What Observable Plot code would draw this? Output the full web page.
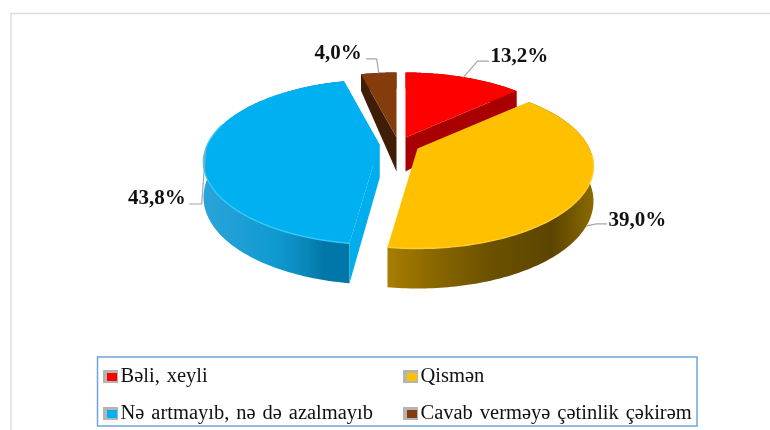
<!DOCTYPE html>
<html><head><meta charset="utf-8">
<script src="https://cdn.jsdelivr.net/npm/d3@7"></script>
<script src="https://cdn.jsdelivr.net/npm/@observablehq/plot@0.6"></script>
<style>html,body{margin:0;padding:0;background:#fff}svg{display:block;filter:blur(.35px)}svg text{word-spacing:1.8px}</style>
</head><body><div id="chart"></div>
<script>
// data
const categories = ["Bəli, xeyli", "Qismən", "Nə artmayıb, nə də azalmayıb", "Cavab verməyə çətinlik çəkirəm"];
const values = [13.2, 39.0, 43.8, 4.0];
const labels = ["13,2%", "39,0%", "43,8%", "4,0%"];
const colors = ["#ff0000", "#ffc000", "#00b0f0", "#843c0c"];
const sideColors = ["#a80000", null, "#00aeee", "#3f1d06"];
const wallFills = ["#a00000", "url(#wallYellow)", "url(#wallBlue)", "#4a2408"];

// pie geometry (3D perspective)
const rx = 172, ry = 78.8, k = 0.212;
const apexX = [405, 417, 379, 396], apexY = [137, 148, 144, 137];
const paintOrder = [3, 0, 2, 1];
const rimColors = [null, "#ffcd2e", "#35c8fb", null];
// label layout: offset of elbow and of text from the slice's leader anchor
const elbowDx = [14, 10, -4, -2], elbowDy = [-16, -2, 55, -14];
const tailDx = [11, 10, -12, -10];
const labelDy = [-6, -5, -7, -7], labelDx = [2, 2, -4, -5];
const anchorOnWall = [false, true, false, false];

const rad = d => d * Math.PI / 180;
function proj(i, deg, drop = false) {
  const u = Math.sin(rad(deg)), v = -Math.cos(rad(deg));
  const s = 1 / (1 - k * v);
  const d = drop ? (v > 0 ? 34 + 6 * v : 34 + 18 * v) : 0;
  return {x: apexX[i] + rx * u * s, y: apexY[i] + ry * v * s + d};
}
function apex(i, drop = false) { return {x: apexX[i], y: apexY[i] + (drop ? 34 : 0)}; }

const bounds = [];
values.reduce((acc, v, i) => { bounds[i] = [acc * 3.6, (acc + v) * 3.6]; return acc + v; }, 0);
function arc(i, drop = false, a = bounds[i][0], b = bounds[i][1]) {
  const n = Math.max(2, Math.ceil(b - a));
  return d3.range(n + 1).map(j => proj(i, a + (b - a) * j / n, drop));
}

const marks = [];
// outer chart frame
marks.push(Plot.ruleY([13], {x1: 10, x2: 770, stroke: "#dedede", strokeWidth: 1.5}));
marks.push(Plot.ruleX([10.5], {y1: 13, y2: 430, stroke: "#dedede", strokeWidth: 1.5}));

// gradient defs
marks.push(() => {
  const svgNS = "http://www.w3.org/2000/svg";
  const defs = document.createElementNS(svgNS, "defs");
  const grads = {
    wallYellow: [[0, "#a87e00"], [.22, "#8a6800"], [.5, "#6b5100"], [.8, "#5c4500"], [1, "#8a6a00"]],
    wallBlue: [[0, "#2aa4da"], [.5, "#0f9ad0"], [.72, "#0a85b8"], [.82, "#0077a8"], [1, "#0077a8"]]
  };
  for (const [id, stops] of Object.entries(grads)) {
    const g = document.createElementNS(svgNS, "linearGradient");
    g.setAttribute("id", id);
    for (const [o, c] of stops) {
      const s = document.createElementNS(svgNS, "stop");
      s.setAttribute("offset", o); s.setAttribute("stop-color", c);
      g.appendChild(s);
    }
    defs.appendChild(g);
  }
  return defs;
});

// leader lines
const leaders = [];
values.forEach((v, i) => {
  const mid = (bounds[i][0] + bounds[i][1]) / 2;
  const p = proj(i, mid, anchorOnWall[i]);
  const e = {x: p.x + elbowDx[i], y: p.y + elbowDy[i]};
  const t = {x: e.x + tailDx[i], y: e.y};
  [p, e, t].forEach(q => leaders.push({id: i, x: q.x, y: q.y}));
});

for (const i of paintOrder) {
  const [a, b] = bounds[i];
  // outer wall
  const wall = [...arc(i), ...arc(i, true).reverse()];
  marks.push(Plot.line(wall, {x: "x", y: "y", fill: wallFills[i], stroke: "none"}));
  // radial cut faces
  if (sideColors[i]) {
    const face1 = [apex(i), proj(i, a), proj(i, a, true), apex(i, true)];
    const face2 = [apex(i), proj(i, b), proj(i, b, true), apex(i, true)];
    marks.push(Plot.line(face1, {x: "x", y: "y", fill: sideColors[i], stroke: "none"}));
    marks.push(Plot.line(face2, {x: "x", y: "y", fill: sideColors[i], stroke: "none"}));
  }
  // top surface
  const top = [apex(i), ...arc(i)];
  marks.push(Plot.line(top, {x: "x", y: "y", fill: colors[i], stroke: "none"}));
  // bright rim along the front edge
  if (rimColors[i]) {
    const front = arc(i, false, i === 2 ? a : 95, i === 2 ? 285 : b);
    marks.push(Plot.line(front, {x: "x", y: "y", stroke: rimColors[i], strokeWidth: 1.4}));
  }
}

marks.push(Plot.line(leaders, {x: "x", y: "y", z: "id", stroke: "#a6a6a6", strokeWidth: 1.2}));

// data labels
const labelRows = labels.map((t, i) => {
  const end = leaders.filter(d => d.id === i)[2];
  return {t, x: end.x + labelDx[i], y: end.y + labelDy[i], i};
});
marks.push(Plot.text(labelRows.filter(d => d.i < 2), {x: "x", y: "y", text: "t", textAnchor: "start",
  fontFamily: "Liberation Serif", fontWeight: "bold", fontSize: 21, fill: "#111"}));
marks.push(Plot.text(labelRows.filter(d => d.i >= 2), {x: "x", y: "y", text: "t", textAnchor: "end",
  fontFamily: "Liberation Serif", fontWeight: "bold", fontSize: 21, fill: "#111"}));

// legend
const legendX = [120, 420, 120, 420], legendY = [375, 375, 412, 412];
marks.push(Plot.rect([{}], {x1: () => 97.5, x2: () => 697, y1: () => 357, y2: () => 426, fill: "none", stroke: "#6fa5dc", strokeWidth: 1.5}));
const legendRows = categories.map((t, i) => ({t, x: legendX[i], y: legendY[i], c: colors[i]}));
marks.push(Plot.rect(legendRows, {x1: d => d.x - 17, x2: d => d.x - 2, y1: d => d.y - 5, y2: d => d.y + 8, fill: "#b4b4b4"}));
marks.push(Plot.rect(legendRows, {x1: d => d.x - 13, x2: d => d.x - 3, y1: d => d.y - 2, y2: d => d.y + 6, fill: "c"}));
marks.push(Plot.text(legendRows, {x: "x", y: "y", text: "t", textAnchor: "start",
  fontFamily: "Liberation Serif", fontSize: 20.5, fill: "#111"}));

const chart = Plot.plot({
  width: 770, height: 430, margin: 0,
  x: {domain: [0, 770], range: [0, 770], axis: null},
  y: {domain: [0, 430], range: [0, 430], axis: null},
  style: {background: "#fff"},
  marks
});
document.getElementById("chart").appendChild(chart);
</script></body></html>
